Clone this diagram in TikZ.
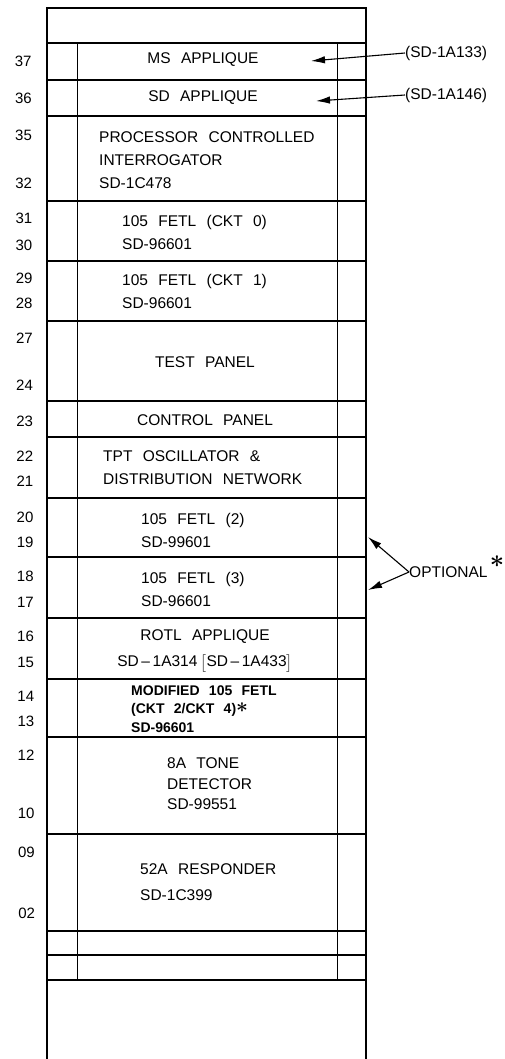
\documentclass[tikz,border=0pt]{standalone}
\usepackage{amsmath}
\usepackage{fontspec}
\setmainfont[WordSpace=2.4]{Liberation Sans}
\usepackage{tikz}
\usetikzlibrary{arrows.meta}

\begin{document}
\begin{tikzpicture}[
    x=1pt, y=-1pt,
    >={Latex[length=14pt,width=7.5pt]},
    frame/.style={line width=1.8pt},
    row/.style={line width=1.1pt},
    col/.style={line width=0.9pt},
    lbl/.style={font=\fontsize{15.5}{23}\selectfont, inner sep=0pt, align=left},
    num/.style={font=\fontsize{15}{15}\selectfont, inner sep=0pt},
    ptr/.style={->, line width=1.1pt},
]
\useasboundingbox (0,0) rectangle (504,1059);
% shelf outline and slots
\draw[frame] (47,1059) -- (47,8) -- (366,8) -- (366,1059);
\foreach \yy in {43,80,116,201,261,321,401,437,498,557,618,679,737,834,931,955,980}
    \draw[row] (47,\yy) -- (366,\yy);
\draw[col] (77,43) -- (77,980);
\draw[col] (337,43) -- (337,980);

% slot numbers
\foreach \num/\yy in {37/61,36/98,35/135,32/183,31/218,30/245,29/278,28/303,27/338,24/385,
    23/421,22/456,21/481,20/517,19/542,18/576,17/602,16/636,15/662,14/696,13/721,12/755,
    10/813,09/852,02/913}
    \node[num] (n\num) at ({23+0.004*\yy},\yy) {\num};

% units
\node[lbl, align=center] (msapp) at (203,60) {MS APPLIQUE};
\node[lbl, align=center] (sdapp) at (203,98) {SD APPLIQUE};
\node[lbl, anchor=west] (pci) at (99,160.5) {PROCESSOR CONTROLLED\\INTERROGATOR\\SD-1C478};
\node[lbl, anchor=west] (fetlA) at (122,232.5) {105 FETL (CKT 0)\\SD-96601};
\node[lbl, anchor=west] (fetlB) at (122,291) {105 FETL (CKT 1)\\SD-96601};
\node[lbl, align=center] (test) at (205,362) {TEST PANEL};
\node[lbl, align=center] (ctrl) at (205,420) {CONTROL PANEL};
\node[lbl, anchor=west] (tpt) at (103,468) {TPT OSCILLATOR \&\\DISTRIBUTION NETWORK};
\node[lbl, anchor=west] (fetlC) at (141,530) {105 FETL (2)\\SD-99601};
\node[lbl, anchor=west] (fetlD) at (141,589) {105 FETL (3)\\SD-96601};
\node[lbl, align=center] (rotl) at (205,651)
    {ROTL APPLIQUE\\[3pt]SD\,--\,1A314\hspace{3pt}$\bigl[$SD\,--\,1A433$\bigr]$};
\node[lbl, anchor=west, font=\fontsize{14}{18.5}\selectfont\bfseries] (modf) at (131,709)
    {MODIFIED 105 FETL\\(CKT 2/CKT 4){\fontsize{20}{10}\selectfont\raisebox{1pt}[0pt][0pt]{$\boldsymbol{\ast}$}}\\SD-96601};
\node[lbl, anchor=west] (tone) at (167,784) {8A TONE\\[-2pt]DETECTOR\\[-3pt]SD-99551};
\node[lbl, anchor=west] (resp) at (140,882) {52A RESPONDER\\[3pt]SD-1C399};

% drawing references
\node[lbl, anchor=west] (refA) at (405,53) {(SD-1A133)};
\node[lbl, anchor=west] (refB) at (405,95) {(SD-1A146)};
\coordinate (tipA) at (311,61);
\coordinate (tipB) at (316,101);
\draw[ptr] (refA.west) -- (tipA);
\draw[ptr] (refB.west) -- (tipB);

\node[lbl, anchor=west] (opt) at (409,572) {OPTIONAL};
\node[inner sep=0pt, font=\fontsize{26}{26}\selectfont] (optstar) at (497,562) {$\boldsymbol{\ast}$};
\coordinate (optA) at (368,537);
\coordinate (optB) at (368,590);
\draw[ptr] (opt.west) -- (optA);
\draw[ptr] (opt.west) -- (optB);
\end{tikzpicture}
\end{document}
